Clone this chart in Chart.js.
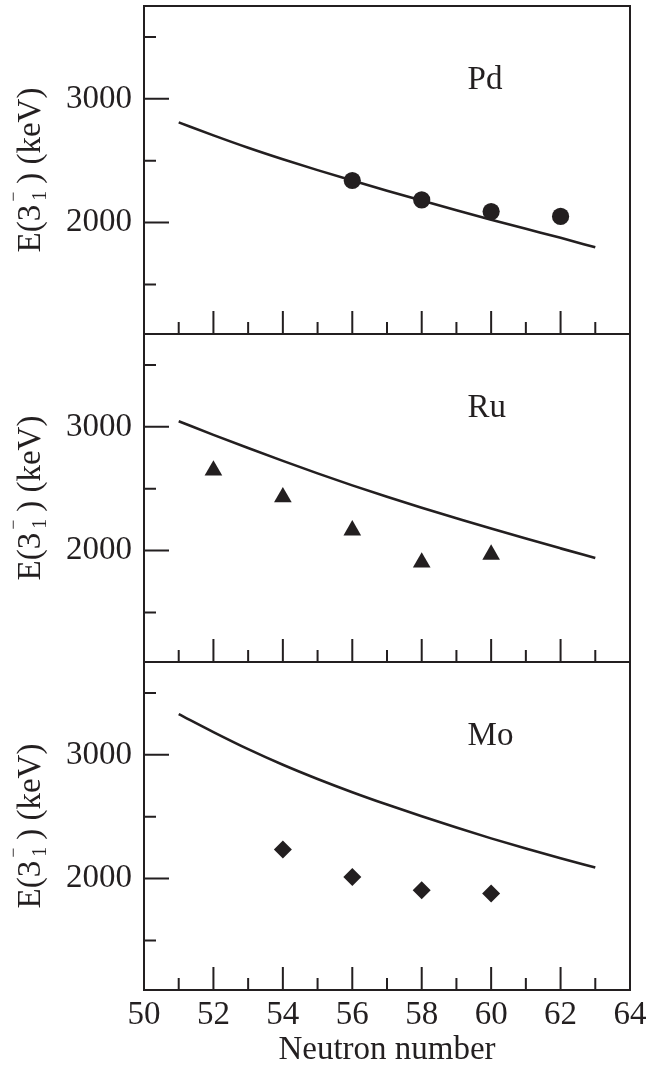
<!DOCTYPE html>
<html><head><meta charset="utf-8">
<script src="https://cdn.jsdelivr.net/npm/chart.js@4/dist/chart.umd.min.js"></script>
<style>
html,body{margin:0;padding:0;background:#fff;overflow:hidden;}
#wrap{position:relative;width:661px;height:1066px;background:#fff;overflow:hidden;}
canvas{position:absolute;left:0;}
</style></head><body>
<div id="wrap">
<canvas id="c1" width="661" height="340" style="top:0px;width:661px;height:340px"></canvas>
<canvas id="c2" width="661" height="340" style="top:330px;width:661px;height:340px"></canvas>
<canvas id="c3" width="661" height="420" style="top:650px;width:661px;height:420px"></canvas>
</div>
<script>
// ---- data ----
const curveN = [51, 52, 53, 54, 55, 56, 57, 58, 59, 60, 61, 62, 63];
const pdCurve = [2810, 2705, 2605, 2512, 2424, 2340, 2258, 2178, 2100, 2024, 1950, 1877, 1800];
const ruCurve = [3045, 2935, 2829, 2725, 2624, 2527, 2435, 2347, 2262, 2178, 2097, 2018, 1940];
const moCurve = [3329, 3184, 3046, 2920, 2805, 2698, 2598, 2503, 2412, 2325, 2243, 2164, 2089];

const pdN = [56, 58, 60, 62];
const pdExp = [2340, 2183, 2089, 2050];
const ruN = [52, 54, 56, 58, 60];
const ruExp = [2648, 2432, 2164, 1905, 1968];
const moN = [54, 56, 58, 60];
const moExp = [2235, 2013, 1905, 1879];

const panelLabels = ['Pd', 'Ru', 'Mo'];
const xLabelTicks = [50, 52, 54, 56, 58, 60, 62, 64];
const xMarkTicks = [51, 52, 53, 54, 55, 56, 57, 58, 59, 60, 61, 62, 63];
const yLabelTicks = [2000, 3000];
const yMinorTicks = [1500, 2500, 3500];
const xTitle = 'Neutron number';

// ---- style ----
const INK = '#231f20';
const FONT = "'Liberation Serif', 'Times New Roman', serif";

function drawYTitle(ctx, cx, cy) {
  ctx.save();
  ctx.translate(cx, cy);
  ctx.rotate(-Math.PI / 2);
  ctx.fillStyle = INK;
  ctx.textBaseline = 'alphabetic';
  ctx.textAlign = 'left';
  const big = '33px ' + FONT, small = '20px ' + FONT;
  ctx.font = big;
  const a = 'E(3', c = ') (keV)';
  const w1 = ctx.measureText(a).width;
  const w3 = ctx.measureText(c).width;
  const gap = 21;
  let u = -(w1 + gap + w3) / 2;
  ctx.fillText(a, u, 0);
  u += w1;
  ctx.font = small;
  ctx.fillText('1', u + 4, 6);
  ctx.font = '18px ' + FONT;
  ctx.fillText('\u2212', u + 3, -21);
  u += gap;
  ctx.font = big;
  ctx.fillText(c, u, 0);
  ctx.restore();
}

const framePlugin = {
  id: 'frame',
  afterDraw(chart, args, opts) {
    const ctx = chart.ctx, a = chart.chartArea, x = chart.scales.x, y = chart.scales.y;
    ctx.save();
    ctx.strokeStyle = INK;
    ctx.lineWidth = 2;
    ctx.strokeRect(a.left, a.top, a.right - a.left, a.bottom - a.top);
    ctx.beginPath();
    xMarkTicks.forEach(n => {
      const px = x.getPixelForValue(n);
      const len = (n % 2 === 0) ? 23 : 12;
      ctx.moveTo(px, a.bottom);
      ctx.lineTo(px, a.bottom - len);
    });
    yLabelTicks.forEach(v => {
      const py = y.getPixelForValue(v);
      ctx.moveTo(a.left, py); ctx.lineTo(a.left + 25, py);
    });
    yMinorTicks.forEach(v => {
      const py = y.getPixelForValue(v);
      ctx.moveTo(a.left, py); ctx.lineTo(a.left + 12, py);
    });
    ctx.stroke();
    ctx.fillStyle = INK;
    ctx.font = '33px ' + FONT;
    ctx.textAlign = 'left';
    ctx.textBaseline = 'alphabetic';
    ctx.fillText(opts.label, x.getPixelForValue(59.32), y.getPixelForValue(3083));
    drawYTitle(ctx, 40, (a.top + a.bottom) / 2);
    ctx.restore();
  }
};

function makeChart(id, curve, expN, expE, marker, radius, label, showX, padTop, padBottom) {
  return new Chart(document.getElementById(id), {
    type: 'scatter',
    data: {
      datasets: [
        {
          data: curveN.map((n, i) => ({x: n, y: curve[i]})),
          showLine: true, borderColor: INK, borderWidth: 2.6,
          pointRadius: 0, cubicInterpolationMode: 'monotone', order: 2
        },
        {
          data: expN.map((n, i) => ({x: n, y: expE[i]})),
          showLine: false, pointStyle: marker, pointRadius: radius,
          backgroundColor: INK, borderColor: INK, pointBorderWidth: 0, order: 1
        }
      ]
    },
    options: {
      responsive: false, animation: false, events: [],
      layout: {autoPadding: false, padding: {top: padTop, bottom: padBottom, left: 0, right: 31}},
      plugins: {legend: {display: false}, tooltip: {enabled: false}, frame: {label: label}},
      scales: {
        x: {
          type: 'linear', min: 50, max: 64, display: showX,
          grid: {display: false, drawTicks: false}, border: {display: false},
          afterBuildTicks: s => { s.ticks = xLabelTicks.map(v => ({value: v})); },
          afterFit: s => { s.height = showX ? 80 : 0; s.paddingLeft = 0; s.paddingRight = 0; },
          ticks: {font: {family: FONT, size: 33}, color: INK, padding: 6, maxRotation: 0, autoSkip: false,
                  callback: v => String(v)},
          title: {display: true, text: xTitle, font: {family: FONT, size: 33}, color: INK, padding: 0}
        },
        y: {
          type: 'linear', min: 1100, max: 3750,
          grid: {display: false, drawTicks: false}, border: {display: false},
          afterBuildTicks: s => { s.ticks = yLabelTicks.map(v => ({value: v})); },
          afterFit: s => { s.width = 144; s.paddingTop = 0; s.paddingBottom = 0; },
          ticks: {font: {family: FONT, size: 33}, color: INK, padding: 12, callback: v => String(v)}
        }
      }
    },
    plugins: [framePlugin]
  });
}

makeChart('c1', pdCurve, pdN, pdExp, 'circle', 8.6, panelLabels[0], false, 6, 6);
makeChart('c2', ruCurve, ruN, ruExp, 'triangle', 10.2, panelLabels[1], false, 4, 8);
makeChart('c3', moCurve, moN, moExp, 'rectRot', 9, panelLabels[2], true, 12, 0);
</script>
</body></html>
